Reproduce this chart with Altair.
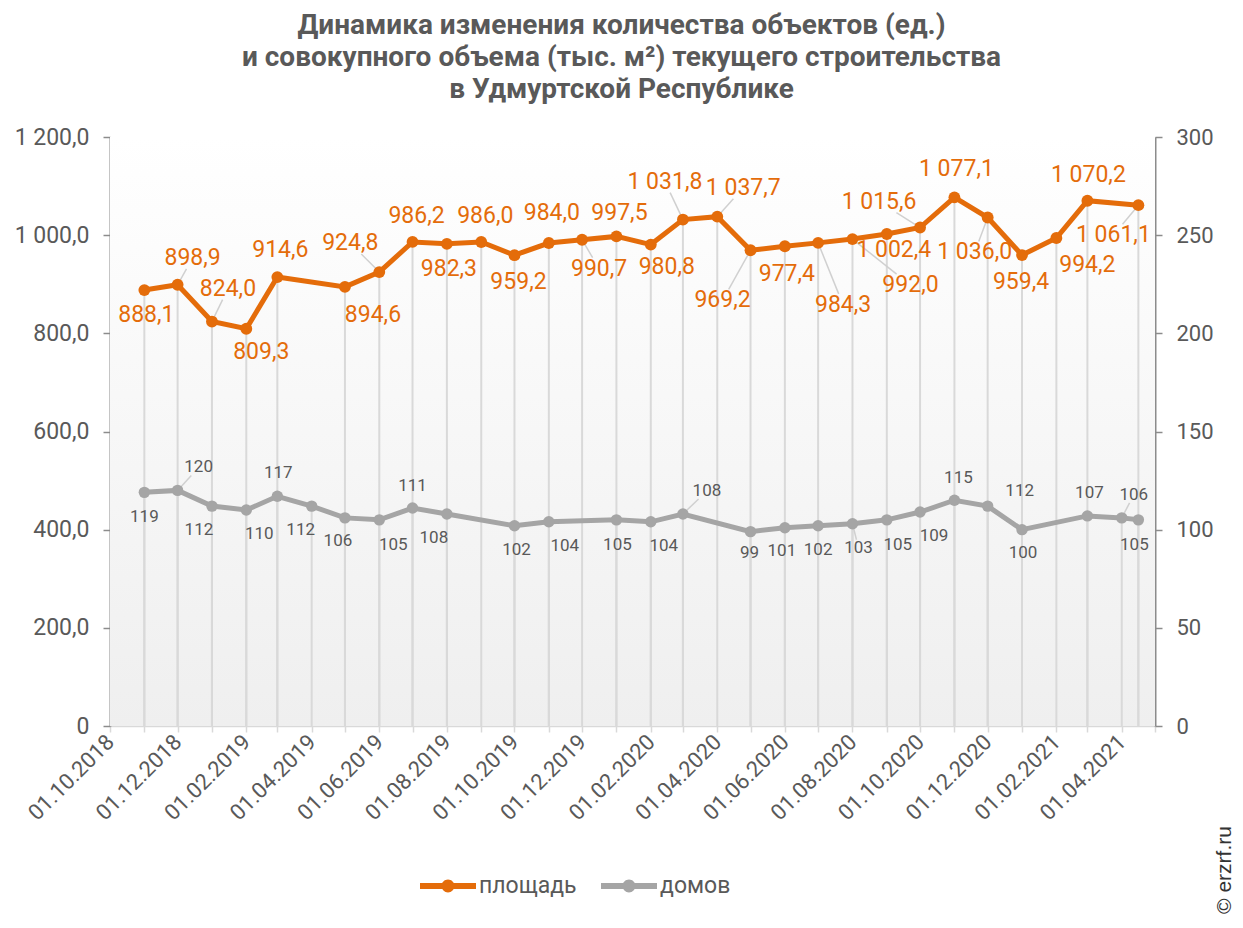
import altair as alt
import pandas as pd

# ---------------- data ----------------
AREA_DATES = ["2018-11-01", "2018-12-01", "2019-01-01", "2019-02-01", "2019-03-01",
              "2019-05-01", "2019-06-01", "2019-07-01", "2019-08-01", "2019-09-01",
              "2019-10-01", "2019-11-01", "2019-12-01", "2020-01-01", "2020-02-01",
              "2020-03-01", "2020-04-01", "2020-05-01", "2020-06-01", "2020-07-01",
              "2020-08-01", "2020-09-01", "2020-10-01", "2020-11-01", "2020-12-01",
              "2021-01-01", "2021-02-01", "2021-03-01", "2021-04-16"]
AREA_VALUES = [888.1, 898.9, 824.0, 809.3, 914.6, 894.6, 924.8, 986.2, 982.3, 986.0,
               959.2, 984.0, 990.7, 997.5, 980.8, 1031.8, 1037.7, 969.2, 977.4, 984.3,
               992.0, 1002.4, 1015.6, 1077.1, 1036.0, 959.4, 994.2, 1070.2, 1061.1]

HOUSE_DATES = ["2018-11-01", "2018-12-01", "2019-01-01", "2019-02-01", "2019-03-01",
               "2019-04-01", "2019-05-01", "2019-06-01", "2019-07-01", "2019-08-01",
               "2019-10-01", "2019-11-01", "2020-01-01", "2020-02-01", "2020-03-01",
               "2020-05-01", "2020-06-01", "2020-07-01", "2020-08-01", "2020-09-01",
               "2020-10-01", "2020-11-01", "2020-12-01", "2021-01-01", "2021-03-01",
               "2021-04-01", "2021-04-16"]
HOUSE_VALUES = [119, 120, 112, 110, 117, 112, 106, 105, 111, 108, 102, 104, 105, 104,
                108, 99, 101, 102, 103, 105, 109, 115, 112, 100, 107, 106, 105]

SERIES = ["площадь", "домов"]
TITLE = ["Динамика изменения количества объектов (ед.)",
         "и совокупного объема (тыс. м²) текущего строительства",
         "в Удмуртской Республике"]
Y_LEFT_TICKS = [0, 200, 400, 600, 800, 1000, 1200]
Y_RIGHT_TICKS = [0, 50, 100, 150, 200, 250, 300]

# ---------------- layout (label offsets in px, leader-line flags) ----------------
AREA_DX = [2, 15, 16, 15, 3, 28, -29, 4, 2, 4, 4, 3, 17, 3, 16, -18, 26, -28, 2, 25,
           58, 7, -41, 2, -13, -1, 31, 1, -25]
AREA_DY = [25, -27, -33, 23, -27, 28, -29, -26, 25, -26, 27, -30, 29, -23, 22, -38, -29,
           50, 28, 62, 46, 16, -26, -28, 35, 27, 27, -26, 30]
AREA_LEADER = [0, 1, 1, 0, 0, 0, 1, 0, 0, 0, 0, 0, 1, 0, 0, 1, 1, 1, 0, 1,
               1, 0, 1, 0, 1, 0, 0, 0, 1]
HOUSE_DX = [0, 21, -13, 13, 1, -11, -7, 14, 0, -13, 2, 16, 1, 13, 24, -1, -3, 0, 6, 11,
            14, 4, 32, 1, 2, 12, -4]
HOUSE_DY = [25, -23, 24, 24, -23, 24, 23, 25, -22, 24, 24, 24, 25, 24, -23, 21, 23, 24,
            24, 25, 24, -22, -15, 23, -23, -23, 25]
HOUSE_LEADER = [0, 1, 0, 0, 0, 0, 0, 0, 0, 0, 0, 0, 0, 0, 1, 0, 0, 0, 1, 0,
                0, 0, 0, 0, 0, 1, 0]

ORANGE = "#E46C0A"
GRAY = "#A5A5A5"
TEXT = "#595959"
W, H = 1045, 589
FONT = "Roboto"


def leader_end(dx, dy, half):
    ly = dy - (half if dy > 0 else -half)
    lx = dx * ly / dy if dy else dx
    return lx, ly


def frame(dates, values, name, dxs, dys, leaders, half):
    df = pd.DataFrame({"date": dates, "value": values, "series": name,
                       "dx": dxs, "dy": dys, "leader": leaders})
    ends = [leader_end(a, b, half) for a, b in zip(dxs, dys)]
    df["lx"] = [e[0] for e in ends]
    df["ly"] = [e[1] for e in ends]
    return df


area = frame(AREA_DATES, AREA_VALUES, SERIES[0], AREA_DX, AREA_DY, AREA_LEADER, 11)
house = frame(HOUSE_DATES, HOUSE_VALUES, SERIES[1], HOUSE_DX, HOUSE_DY, HOUSE_LEADER, 8)

x_ticks = []
y, m = 2018, 10
while (y, m) <= (2021, 5):
    x_ticks.append(alt.DateTime(year=y, month=m, date=1, utc=True))
    m += 1
    if m > 12:
        m, y = 1, y + 1

x_enc = alt.X(
    "date:T",
    scale=alt.Scale(type="utc", nice=False,
                    domain=[alt.DateTime(year=2018, month=10, date=1, utc=True),
                            alt.DateTime(year=2021, month=5, date=1, utc=True)]),
    axis=alt.Axis(values=x_ticks, title=None, grid=False,
                  labelExpr="utcmonth(datum.value) % 2 == 1 ? utcFormat(datum.value, '%d.%m.%Y') : ''",
                  labelAngle=-45, labelAlign="right", labelBaseline="middle",
                  labelFontSize=22, labelColor=TEXT, labelFont=FONT, labelPadding=6,
                  domainColor="#D9D9D9", domainWidth=1.5, tickColor="#D9D9D9",
                  tickSize=6, tickWidth=1.5, labelOverlap=False, labelFlush=False),
)
x2_enc = alt.X2("date:T")

ru_fmt = "replace(replace(format(datum.value, ',.1f'), ',', ' '), '.', ',')"

y_left_scale = alt.Scale(domain=[0, 1200], nice=False, zero=True)
y_right_scale = alt.Scale(domain=[0, 300], nice=False, zero=True)

left_axis = alt.Axis(values=Y_LEFT_TICKS, title=None, grid=False, orient="left",
                     labelExpr="datum.value == 0 ? '0' : " + ru_fmt,
                     labelFontSize=23, labelColor=TEXT, labelFont=FONT, labelPadding=14,
                     domainColor="#8C8C8C", domainWidth=2, tickColor="#8C8C8C",
                     tickSize=7, tickWidth=1.5)
right_axis = alt.Axis(values=Y_RIGHT_TICKS, title=None, grid=False, orient="right",
                      labelFontSize=22, labelColor=TEXT, labelFont=FONT, labelPadding=14,
                      domainColor="#8C8C8C", domainWidth=2, tickColor="#8C8C8C",
                      tickSize=7, tickWidth=1.5)

bg = alt.Chart(alt.Data(values=[{}])).mark_rect(
    color=alt.Gradient(gradient="linear", x1=0, x2=0, y1=0, y2=1,
                       stops=[alt.GradientStop(color="#FFFFFF", offset=0),
                              alt.GradientStop(color="#EFEFEF", offset=1)])
).encode(x=alt.value(0), x2=alt.value(W), y=alt.value(0), y2=alt.value(H))

area_base = alt.Chart(area)
house_base = alt.Chart(house)

area_rules = area_base.mark_rule(color="#D9D9D9", strokeWidth=2).encode(
    x=x_enc, y=alt.Y("value:Q", scale=y_left_scale, axis=left_axis), y2=alt.datum(0))
house_rules = house_base.mark_rule(color="#D9D9D9", strokeWidth=2).encode(
    x=x_enc, y=alt.Y("value:Q", scale=y_right_scale, axis=right_axis), y2=alt.datum(0))

area_leaders = area_base.transform_filter("datum.leader == 1").mark_rule(
    color="#D0D0D0", strokeWidth=1.5,
    x2Offset=alt.ExprRef(expr="datum.lx"), y2Offset=alt.ExprRef(expr="datum.ly")
).encode(x=x_enc, x2=x2_enc,
         y=alt.Y("value:Q", scale=y_left_scale, axis=None), y2=alt.Y2("value:Q"))
house_leaders = house_base.transform_filter("datum.leader == 1").mark_rule(
    color="#D0D0D0", strokeWidth=1.5,
    x2Offset=alt.ExprRef(expr="datum.lx"), y2Offset=alt.ExprRef(expr="datum.ly")
).encode(x=x_enc, x2=x2_enc,
         y=alt.Y("value:Q", scale=y_right_scale, axis=None), y2=alt.Y2("value:Q"))

house_line = house_base.mark_line(color=GRAY, strokeWidth=5).encode(
    x=x_enc, y=alt.Y("value:Q", scale=y_right_scale, axis=None))
area_line = area_base.mark_line(color=ORANGE, strokeWidth=5).encode(
    x=x_enc, y=alt.Y("value:Q", scale=y_left_scale, axis=None))

LEGEND_PATH = ("M-1,-0.11L1,-0.11L1,0.11L-1,0.11Z "
               "M-0.23,0A0.23,0.23,0,1,1,0.23,0A0.23,0.23,0,1,1,-0.23,0Z")
color_enc = alt.Color(
    "series:N",
    scale=alt.Scale(domain=SERIES, range=[ORANGE, GRAY]),
    legend=alt.Legend(orient="none", legendX=310, legendY=721, direction="horizontal",
                      title=None, symbolType=LEGEND_PATH, symbolSize=3136,
                      symbolStrokeWidth=0, labelFontSize=23, labelColor=TEXT,
                      labelFont=FONT, labelOffset=3, columnPadding=24),
)

house_pts = house_base.mark_circle(size=130, opacity=1).encode(
    x=x_enc, y=alt.Y("value:Q", scale=y_right_scale, axis=None), color=color_enc)
area_pts = area_base.mark_circle(size=140, opacity=1).encode(
    x=x_enc, y=alt.Y("value:Q", scale=y_left_scale, axis=None), color=color_enc)

house_text = house_base.mark_text(
    fontSize=17, color=TEXT, font=FONT, align="center", baseline="middle",
    dx=alt.ExprRef(expr="datum.dx"), dy=alt.ExprRef(expr="datum.dy")
).encode(x=x_enc, y=alt.Y("value:Q", scale=y_right_scale, axis=None),
         text=alt.Text("value:Q", format="d"))

area_text = area_base.transform_calculate(lbl=ru_fmt).mark_text(
    fontSize=23, color=ORANGE, font=FONT, align="center", baseline="middle",
    dx=alt.ExprRef(expr="datum.dx"), dy=alt.ExprRef(expr="datum.dy")
).encode(x=x_enc, y=alt.Y("value:Q", scale=y_left_scale, axis=None), text="lbl:N")

copyright_txt = alt.Chart(alt.Data(values=[{}])).mark_text(
    angle=270, fontSize=21, color="#333333", font="Liberation Sans",
    align="center", baseline="middle"
).encode(x=alt.value(1115), y=alt.value(733), text=alt.value("© erzrf.ru"))

chart = alt.layer(
    bg, area_rules, house_rules, area_leaders, house_leaders, house_line, house_pts,
    area_line, area_pts, house_text, area_text, copyright_txt
).resolve_scale(y="independent").properties(
    width=W, height=H,
    autosize=alt.AutoSizeParams(type="none"),
    padding={"left": 102, "top": 129, "right": 80, "bottom": 194},
    title=alt.TitleParams(text=TITLE, fontSize=28, fontWeight="bold", color=TEXT,
                          font=FONT, anchor="middle", lineHeight=32, dx=-11, offset=22),
).configure_view(stroke=None).configure(font=FONT)

chart.save("out.html", embed_options={"renderer": "svg", "actions": False})
